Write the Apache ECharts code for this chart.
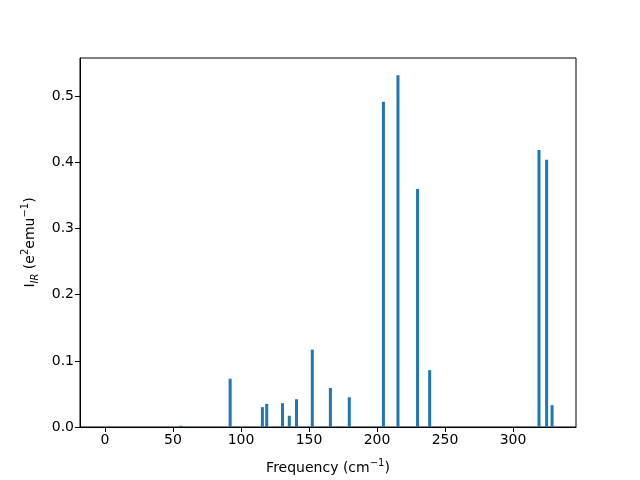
<!DOCTYPE html>
<html><head><meta charset="utf-8">
<script src="https://cdn.jsdelivr.net/npm/echarts@6/dist/echarts.min.js"></script>
<style>html,body{margin:0;padding:0;background:#fff}#c{width:640px;height:480px}</style>
</head><body><div id="c"></div>
<script>
const frequencies = [55.7, 92.0, 115.7, 118.9, 130.5, 135.5, 140.8, 152.4, 165.7, 179.6, 204.7, 215.4, 229.8, 238.7, 319.1, 324.7, 328.7];
const intensities = [0.002, 0.073, 0.030, 0.035, 0.036, 0.017, 0.042, 0.117, 0.059, 0.045, 0.492, 0.532, 0.360, 0.086, 0.419, 0.404, 0.033];
const xTicks = [0, 50, 100, 150, 200, 250, 300];
const yTicks = [0, 0.1, 0.2, 0.3, 0.4, 0.5];

const chart = echarts.init(document.getElementById('c'), null, {renderer: 'canvas'});
const font = 'DejaVu Sans';
const rich = {
  a: {fontFamily: font, fontSize: 14, color: '#000', lineHeight: 20, verticalAlign: 'middle'},
  sup: {fontFamily: font, fontSize: 10, color: '#000', lineHeight: 20, verticalAlign: 'top', padding: [0,0,6,0]},
  s: {fontFamily: font, fontSize: 10, fontStyle: 'italic', color: '#000', verticalAlign: 'bottom', lineHeight: 20, padding: [6,0,0,0]}
};
chart.setOption({
  animation: false,
  backgroundColor: '#fff',
  grid: {left: 80, right: 64, top: 58, bottom: 53, show: true, borderColor: '#000', borderWidth: 1, backgroundColor: 'transparent'},
  xAxis: {
    type: 'value', min: -18.4, max: 346.3,
    name: '{a|Frequency (cm}{sup|−1}{a|)}', nameLocation: 'middle', nameGap: 31,
    nameTextStyle: {fontFamily: font, fontSize: 14, color: '#000', rich: rich},
    axisLine: {show: true, onZero: false, lineStyle: {color: '#000', width: 1}},
    axisTick: {show: true, inside: false, length: 5, lineStyle: {color: '#000'}, customValues: xTicks},
    axisLabel: {fontFamily: font, fontSize: 14, color: '#000', margin: 6, customValues: xTicks},
    splitLine: {show: false}
  },
  yAxis: {
    type: 'value', min: 0, max: 0.558,
    name: '{a|I}{s|IR}{a| (e}{sup|2}{a|emu}{sup|−1}{a|)}', nameLocation: 'middle', nameGap: 39,
    nameTextStyle: {fontFamily: font, fontSize: 14, color: '#000', rich: rich},
    axisLine: {show: true, onZero: false, lineStyle: {color: '#000', width: 1}},
    axisTick: {show: true, inside: false, length: 5, lineStyle: {color: '#000'}, customValues: yTicks},
    axisLabel: {fontFamily: font, fontSize: 14, color: '#000', margin: 6, customValues: yTicks,
      formatter: v => v.toFixed(1)},
    splitLine: {show: false}
  },
  series: [{
    type: 'bar', barWidth: 3, barMinHeight: 1,
    itemStyle: {color: '#1f77b4'},
    data: frequencies.map((f, i) => [f, intensities[i]])
  }]
});
</script></body></html>
